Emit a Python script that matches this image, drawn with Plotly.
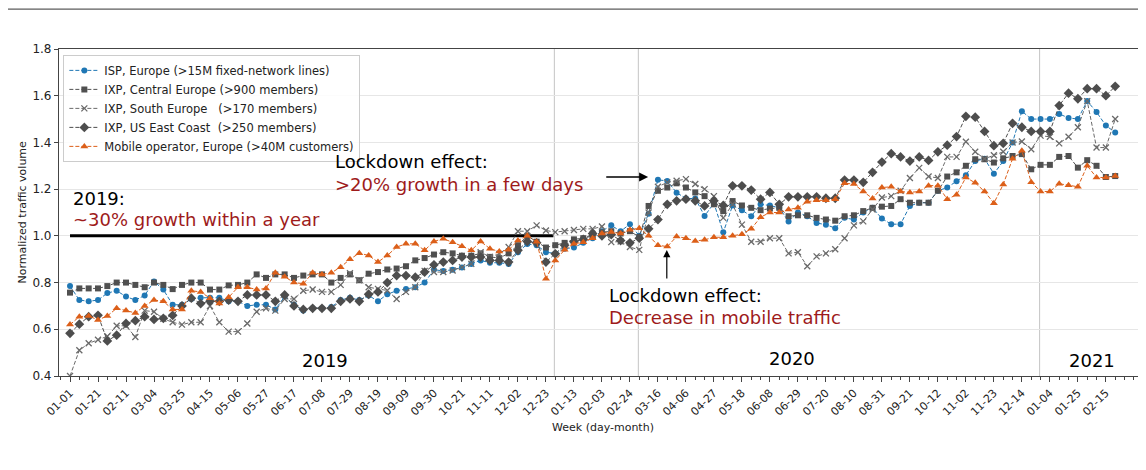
import plotly.graph_objects as go

# week index (weekly samples, 2019-01-01 .. 2021-02-22)
weeks = list(range(113))

tick_weeks = list(range(0, 112, 3))
tick_labels = ["01-01", "01-21", "02-11", "03-04", "03-25", "04-15", "05-06", "05-27",
               "06-17", "07-08", "07-29", "08-19", "09-09", "09-30", "10-21", "11-11",
               "12-02", "12-23", "01-13", "02-03", "02-24", "03-16", "04-06", "04-27",
               "05-18", "06-08", "06-29", "07-20", "08-10", "08-31", "09-21", "10-12",
               "11-02", "11-23", "12-14", "01-04", "01-25", "02-15"]

isp_europe = [0.785, 0.725, 0.72, 0.725, 0.755, 0.765, 0.74, 0.725, 0.745, 0.805,
              0.77, 0.705, 0.705, 0.73, 0.735, 0.735, 0.735, 0.72, 0.72, 0.70,
              0.705, 0.705, 0.685, 0.74, 0.705, 0.68, 0.69, 0.69, 0.695, 0.725,
              0.735, 0.725, 0.745, 0.72, 0.75, 0.765, 0.773, 0.78, 0.80, 0.855,
              0.85, 0.855, 0.865, 0.88, 0.895, 0.885, 0.885, 0.88, 0.93, 0.965,
              0.96, 0.93, 0.925, 0.945, 0.95, 0.97, 0.99, 1.02, 1.045, 1.02,
              1.05, 1.0, 1.095, 1.24, 1.235, 1.185, 1.16, 1.16, 1.085, 1.14,
              1.015, 1.13, 1.11, 1.084, 1.135, 1.13, 1.12, 1.062, 1.10, 1.084,
              1.055, 1.048, 1.033, 1.077, 1.07, 1.10, 1.12, 1.074, 1.05, 1.05,
              1.128, 1.142, 1.142, 1.193, 1.207, 1.234, 1.26, 1.32, 1.33, 1.266,
              1.32, 1.40, 1.534, 1.50, 1.50, 1.50, 1.522, 1.505, 1.50, 1.577,
              1.53, 1.472, 1.443]

ixp_central = [0.757, 0.775, 0.775, 0.775, 0.785, 0.80, 0.80, 0.79, 0.78, 0.80,
               0.79, 0.772, 0.79, 0.80, 0.80, 0.77, 0.77, 0.788, 0.79, 0.80,
               0.835, 0.82, 0.835, 0.835, 0.82, 0.83, 0.835, 0.835, 0.80, 0.82,
               0.835, 0.81, 0.838, 0.845, 0.856, 0.86, 0.87, 0.895, 0.905, 0.92,
               0.93, 0.925, 0.915, 0.915, 0.925, 0.91, 0.905, 0.925, 0.96, 1.0,
               0.975, 0.95, 0.96, 0.97, 0.985, 0.99, 1.0, 1.015, 1.02, 1.01,
               1.02, 0.995, 1.128, 1.193, 1.207, 1.225, 1.207, 1.186, 1.17, 1.135,
               1.106, 1.149, 1.13, 1.12, 1.11, 1.117, 1.12, 1.084, 1.088, 1.088,
               1.077, 1.07, 1.065, 1.084, 1.088, 1.106, 1.12, 1.125, 1.128, 1.157,
               1.142, 1.142, 1.142, 1.193, 1.254, 1.272, 1.30, 1.328, 1.328, 1.314,
               1.332, 1.342, 1.35, 1.285, 1.304, 1.304, 1.338, 1.342, 1.292, 1.324,
               1.30, 1.252, 1.256]

ixp_south = [0.40, 0.51, 0.54, 0.555, 0.57, 0.615, 0.615, 0.567, 0.68, 0.675,
             0.645, 0.63, 0.62, 0.63, 0.63, 0.70, 0.63, 0.59, 0.59, 0.625,
             0.675, 0.69, 0.68, 0.73, 0.73, 0.765, 0.77, 0.76, 0.76, 0.79,
             0.84, 0.81, 0.78, 0.773, 0.766, 0.73, 0.76, 0.78, 0.85, 0.845,
             0.845, 0.852, 0.866, 0.88, 0.93, 0.91, 0.923, 0.952, 1.02, 1.02,
             1.045, 1.023, 1.016, 1.02, 1.025, 1.03, 1.03, 1.04, 0.973, 0.976,
             0.952, 0.94, 1.10, 1.21, 1.229, 1.236, 1.243, 1.222, 1.20, 1.17,
             1.077, 1.135, 1.048, 0.975, 0.975, 0.99, 0.99, 0.925, 0.93, 0.87,
             0.912, 0.925, 0.943, 0.99, 1.045, 1.062, 1.113, 1.164, 1.17, 1.193,
             1.248, 1.291, 1.254, 1.248, 1.338, 1.338, 1.403, 1.36, 1.33, 1.345,
             1.36, 1.40, 1.404, 1.371, 1.429, 1.424, 1.396, 1.424, 1.465, 1.577,
             1.378, 1.378, 1.50]

ixp_us_east = [0.583, 0.622, 0.654, 0.66, 0.55, 0.575, 0.625, 0.637, 0.654, 0.642,
               0.647, 0.66, 0.70, 0.733, 0.71, 0.72, 0.72, 0.725, 0.72, 0.747,
               0.747, 0.747, 0.72, 0.747, 0.70, 0.685, 0.69, 0.69, 0.69, 0.72,
               0.73, 0.72, 0.75, 0.76, 0.80, 0.83, 0.83, 0.823, 0.845, 0.876,
               0.888, 0.895, 0.909, 0.909, 0.909, 0.895, 0.895, 0.888, 0.938, 0.976,
               0.97, 0.888, 0.923, 0.96, 0.975, 0.985, 1.01, 1.0, 1.005, 0.98,
               0.97, 0.99, 1.03, 1.07, 1.135, 1.15, 1.157, 1.15, 1.128, 1.15,
               1.13, 1.214, 1.214, 1.196, 1.157, 1.186, 1.135, 1.167, 1.167, 1.167,
               1.167, 1.161, 1.161, 1.239, 1.239, 1.229, 1.272, 1.316, 1.352, 1.338,
               1.32, 1.338, 1.323, 1.36, 1.388, 1.425, 1.512, 1.508, 1.447, 1.386,
               1.396, 1.482, 1.465, 1.447, 1.447, 1.447, 1.558, 1.611, 1.587, 1.63,
               1.63, 1.60, 1.64]

mobile_europe = [0.62, 0.654, 0.657, 0.64, 0.657, 0.69, 0.68, 0.67, 0.70, 0.725,
                 0.72, 0.685, 0.685, 0.765, 0.76, 0.733, 0.71, 0.737, 0.78, 0.78,
                 0.77, 0.775, 0.842, 0.825, 0.80, 0.795, 0.842, 0.835, 0.842, 0.866,
                 0.90, 0.926, 0.916, 0.888, 0.916, 0.952, 0.966, 0.966, 0.938, 0.976,
                 0.988, 0.973, 0.956, 0.938, 0.976, 0.945, 0.933, 0.94, 0.98, 1.0,
                 0.975, 0.816, 0.895, 0.94, 0.966, 0.973, 0.99, 1.01, 1.016, 1.01,
                 1.026, 1.033, 1.0, 0.96, 0.954, 0.997, 0.99, 0.978, 0.983, 0.994,
                 0.994, 1.0, 1.007, 1.03, 1.08, 1.10, 1.10, 1.113, 1.12, 1.146,
                 1.152, 1.152, 1.157, 1.225, 1.222, 1.19, 1.16, 1.207, 1.21, 1.19,
                 1.186, 1.19, 1.215, 1.215, 1.157, 1.176, 1.25, 1.227, 1.19, 1.14,
                 1.22, 1.33, 1.364, 1.23, 1.19, 1.19, 1.223, 1.217, 1.21, 1.30,
                 1.25, 1.25, 1.256]

baseline_2019 = [1.0, 1.0]
baseline_weeks = [0, 51.8]

series = [
    ("ISP, Europe (>15M fixed-network lines)", isp_europe, "#1f77b4", "circle", 6, None),
    ("IXP, Central Europe (>900 members)", ixp_central, "#505050", "square", 6, None),
    ("IXP, South Europe   (>170 members)", ixp_south, "#6a6a6a", "x-thin-open", 6, "#5a5a5a"),
    ("IXP, US East Coast  (>250 members)", ixp_us_east, "#4d4d4d", "diamond", 7.5, None),
    ("Mobile operator, Europe (>40M customers)", mobile_europe, "#dc5f19", "triangle-up", 7, None),
]

FONT = "DejaVu Sans"
DARKRED = "#9e1b1b"
ANN = 18

fig = go.Figure()

fig.add_trace(go.Scatter(x=baseline_weeks, y=baseline_2019, mode="lines",
                         line=dict(color="black", width=3), showlegend=False,
                         hoverinfo="skip"))

for name, vals, color, sym, size, mline in series:
    marker = dict(symbol=sym, size=size, color=color)
    if sym == "x-thin-open":
        marker["line"] = dict(width=1.3, color=mline)
    fig.add_trace(go.Scatter(
        x=weeks, y=vals, name=name, mode="lines+markers",
        line=dict(color=color, width=1, dash="4px,2px"),
        marker=marker,
    ))

shapes = []
for xv in [51.9, 60.9, 103.9]:
    shapes.append(dict(type="line", xref="x", yref="paper", x0=xv, x1=xv, y0=0, y1=1,
                       line=dict(color="#c4c4c4", width=1), layer="below"))
shapes.append(dict(type="line", xref="paper", yref="paper", x0=-0.06, x1=1.0,
                   y0=1.122, y1=1.122, line=dict(color="#333333", width=1)))

annotations = [
    dict(x=0.1, y=1.162, xref="x", yref="y", text="2019:", showarrow=False,
         xanchor="left", yanchor="middle", font=dict(size=ANN, color="black", family=FONT)),
    dict(x=0.1, y=1.068, xref="x", yref="y", text="~30% growth within a year", showarrow=False,
         xanchor="left", yanchor="middle", font=dict(size=ANN, color=DARKRED, family=FONT)),
    dict(x=28.2, y=1.32, xref="x", yref="y", text="Lockdown effect:", showarrow=False,
         xanchor="left", yanchor="middle", font=dict(size=ANN, color="black", family=FONT)),
    dict(x=28.2, y=1.222, xref="x", yref="y", text=">20% growth in a few days", showarrow=False,
         xanchor="left", yanchor="middle", font=dict(size=ANN, color=DARKRED, family=FONT)),
    dict(x=57.55, y=0.744, xref="x", yref="y", text="Lockdown effect:", showarrow=False,
         xanchor="left", yanchor="middle", font=dict(size=ANN, color="black", family=FONT)),
    dict(x=57.55, y=0.652, xref="x", yref="y", text="Decrease in mobile traffic", showarrow=False,
         xanchor="left", yanchor="middle", font=dict(size=ANN, color=DARKRED, family=FONT)),
    dict(x=27.3, y=0.468, xref="x", yref="y", text="2019", showarrow=False,
         xanchor="center", yanchor="middle", font=dict(size=18, color="black", family=FONT)),
    dict(x=77.4, y=0.474, xref="x", yref="y", text="2020", showarrow=False,
         xanchor="center", yanchor="middle", font=dict(size=18, color="black", family=FONT)),
    dict(x=109.5, y=0.468, xref="x", yref="y", text="2021", showarrow=False,
         xanchor="center", yanchor="middle", font=dict(size=18, color="black", family=FONT)),
    # arrows
    dict(x=61.95, y=1.252, ax=57.3, ay=1.252, xref="x", yref="y", axref="x", ayref="y",
         text="", showarrow=True, arrowhead=2, arrowsize=1.2, arrowwidth=1.5, arrowcolor="black"),
    dict(x=63.95, y=0.939, ax=63.95, ay=0.811, xref="x", yref="y", axref="x", ayref="y",
         text="", showarrow=True, arrowhead=2, arrowsize=1.2, arrowwidth=1.2, arrowcolor="black"),
    # axis titles
    dict(x=0.5, y=-0.156, xref="paper", yref="paper", text="Week (day-month)", showarrow=False,
         xanchor="center", yanchor="middle", font=dict(size=11, color="#222", family=FONT)),
    dict(x=-0.034, y=0.5, xref="paper", yref="paper", text="Normalized traffic volume",
         showarrow=False, textangle=-90, xanchor="center", yanchor="middle",
         font=dict(size=11, color="#222", family=FONT)),
]

fig.update_layout(
    width=1146, height=470,
    margin=dict(l=51, r=8, t=41, b=102),
    paper_bgcolor="white", plot_bgcolor="white",
    font=dict(family=FONT, size=11, color="#222"),
    shapes=shapes, annotations=annotations,
    legend=dict(x=0.004, y=0.982, xanchor="left", yanchor="top",
                bgcolor="rgba(255,255,255,0.85)", bordercolor="#cccccc", borderwidth=1,
                font=dict(size=11.5, family=FONT, color="#222"), tracegroupgap=0,
                itemwidth=30),
    showlegend=True,
)

fig.update_xaxes(
    range=[-1.18, 115.3], tickmode="array", tickvals=tick_weeks, ticktext=tick_labels,
    tickangle=-45, ticks="outside", ticklen=5, tickcolor="#444",
    showgrid=False, zeroline=False, showline=True, linecolor="#444", linewidth=1.2,
    mirror=True, tickfont=dict(size=11, color="#222"),
    minor=dict(tickmode="linear", tick0=0, dtick=1, ticks="outside", ticklen=3,
               tickcolor="#444", showgrid=False),
)
fig.update_yaxes(
    range=[0.4, 1.8], tickmode="array", tickvals=[0.4, 0.6, 0.8, 1.0, 1.2, 1.4, 1.6, 1.8],
    ticktext=["0.4", "0.6", "0.8", "1.0", "1.2", "1.4", "1.6", "1.8"],
    ticks="outside", ticklen=4, tickcolor="#444",
    showgrid=True, gridcolor="#e6e6e6", gridwidth=1, zeroline=False,
    showline=True, linecolor="#444", linewidth=1.2, mirror=True,
    tickfont=dict(size=12, color="#222"),
)

fig.write_html("out.html")
